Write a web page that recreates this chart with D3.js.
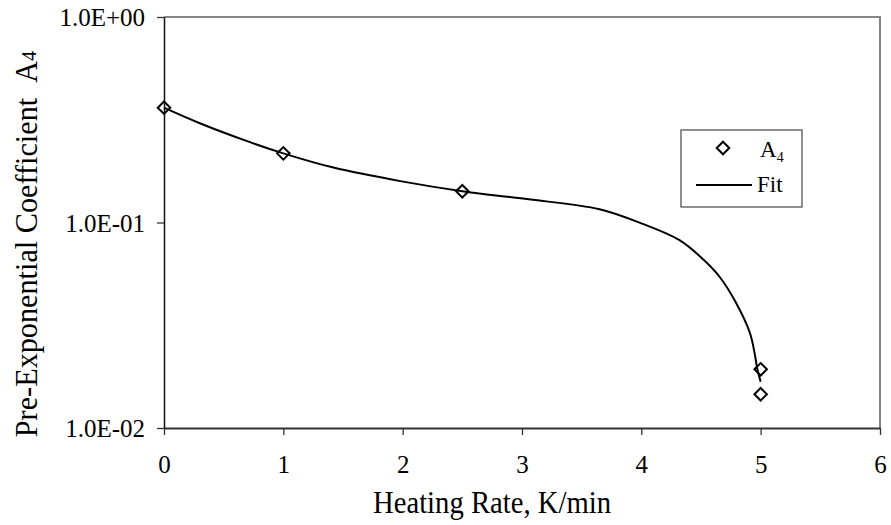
<!DOCTYPE html>
<html>
<head>
<meta charset="utf-8">
<script src="https://cdn.jsdelivr.net/npm/d3@7"></script>
<style>
  body { margin: 0; background: #fff; }
  svg { display: block; font-family: "Liberation Serif", "Times New Roman", serif; }
  svg text { font-family: "Liberation Serif", "Times New Roman", serif; }
</style>
</head>
<body>
<svg></svg>
<script>
const size = { w: 891, h: 525 };
const plot = { l: 164, r: 880, t: 17, b: 428 };
const serif = "Liberation Serif, Times New Roman, serif";

// measured points (A4 vs heating rate)
const rateValues = [0, 1, 2.5, 5, 5];
const a4Values = [0.362, 0.217, 0.142, 0.0193, 0.0146];

// fitted curve
const fitRate = [0, 0.30, 0.72, 1.0, 1.42, 1.98, 2.5, 3.04, 3.65, 4.0, 4.32, 4.52, 4.66, 4.79, 4.91, 4.95, 4.97, 5.0];
const fitA4 = [0.362, 0.304, 0.246, 0.217, 0.185, 0.159, 0.142, 0.130, 0.116, 0.099, 0.082, 0.066, 0.054, 0.041, 0.029, 0.023, 0.0196, 0.0168];

const xTicks = [0, 1, 2, 3, 4, 5, 6];
const yTicks = [0.01, 0.1, 1];
const yTickLabels = ["1.0E-02", "1.0E-01", "1.0E+00"];

const svg = d3.select("svg").attr("width", size.w).attr("height", size.h);

const x = d3.scaleLinear().domain([0, 6]).range([plot.l, plot.r]);
const y = d3.scaleLog().domain([0.01, 1]).range([plot.b, plot.t]);

// plot area frame (grey top / right)
svg.append("path")
	.attr("d", `M${plot.l},${plot.t}H${plot.r}V${plot.b}`)
	.attr("fill", "none")
	.attr("stroke", "#858585")
	.attr("stroke-width", 2);

// x axis
const xAxisG = svg.append("g")
	.attr("transform", `translate(0,${plot.b})`)
	.call(d3.axisBottom(x).tickValues(xTicks).tickFormat(d3.format("d"))
		.tickSizeInner(7).tickSizeOuter(0).tickPadding(20));
xAxisG.attr("font-family", serif);
xAxisG.select(".domain").attr("stroke", "#333").attr("stroke-width", 2);
xAxisG.selectAll(".tick line").attr("stroke", "#333").attr("stroke-width", 1.3);
xAxisG.selectAll(".tick text")
	.attr("font-family", serif)
	.attr("font-size", 25)
	.attr("fill", "#000");

// y axis
const yAxisG = svg.append("g")
	.attr("transform", `translate(${plot.l},0)`)
	.call(d3.axisLeft(y).tickValues(yTicks)
		.tickFormat((d, i) => yTickLabels[i])
		.tickSizeInner(7).tickSizeOuter(0).tickPadding(12));
yAxisG.attr("font-family", serif);
yAxisG.select(".domain").attr("stroke", "#111").attr("stroke-width", 1.5);
yAxisG.selectAll(".tick line").attr("stroke", "#333").attr("stroke-width", 1.3);
yAxisG.selectAll(".tick text")
	.attr("font-family", serif)
	.attr("font-size", 25)
	.attr("fill", "#000")
	.attr("dy", "0.34em")
	.attr("x", -19);

// fit line
const line = d3.line()
	.x((d, i) => x(fitRate[i]))
	.y((d) => y(d))
	.curve(d3.curveCatmullRom.alpha(0.5));

svg.append("path")
	.datum(fitA4)
	.attr("d", line)
	.attr("fill", "none")
	.attr("stroke", "#000")
	.attr("stroke-width", 2);

// data markers
const diamond = d3.symbol().type(d3.symbolDiamond2).size(100);
svg.append("g")
	.selectAll("path")
	.data(a4Values)
	.join("path")
	.attr("d", diamond)
	.attr("transform", (d, i) => `translate(${x(rateValues[i])},${y(d)})`)
	.attr("fill", "none")
	.attr("stroke", "#000")
	.attr("stroke-width", 2);

// axis titles
svg.append("text")
	.attr("transform", "translate(492,513) scale(0.91,1)")
	.attr("text-anchor", "middle")
	.attr("font-size", 31.5)
	.text("Heating Rate, K/min");

const yTitle = svg.append("text")
	.attr("transform", "translate(37,244) rotate(-90) scale(0.96,1)")
	.attr("text-anchor", "middle")
	.attr("font-size", 31.5);
yTitle.append("tspan").text("Pre-Exponential Coefficient\u00a0\u00a0A");
yTitle.append("tspan").attr("font-size", 21).attr("dy", -1).text("4");

// legend
const legend = svg.append("g").attr("transform", "translate(681,130)");
legend.append("rect")
	.attr("width", 121)
	.attr("height", 77)
	.attr("fill", "#fff")
	.attr("stroke", "#555")
	.attr("stroke-width", 1.3);
legend.append("path")
	.attr("d", diamond)
	.attr("transform", "translate(42,18)")
	.attr("fill", "none")
	.attr("stroke", "#000")
	.attr("stroke-width", 2);
const legA = legend.append("text")
	.attr("x", 79)
	.attr("y", 27)
	.attr("font-size", 23);
legA.append("tspan").text("A");
legA.append("tspan").attr("font-size", 14).attr("dy", 5).text("4");
legend.append("line")
	.attr("x1", 15).attr("x2", 71)
	.attr("y1", 55).attr("y2", 55)
	.attr("stroke", "#000")
	.attr("stroke-width", 2);
legend.append("text")
	.attr("x", 76)
	.attr("y", 62)
	.attr("font-size", 23)
	.text("Fit");
</script>
</body>
</html>
